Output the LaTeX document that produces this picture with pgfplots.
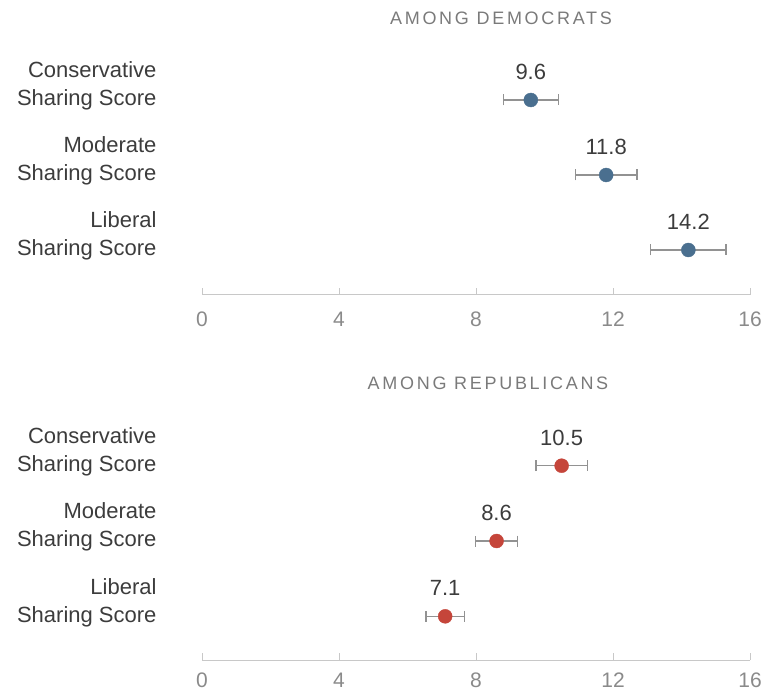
\documentclass[border=0pt]{standalone}
\usepackage{fontspec}
\setmainfont{Liberation Sans}
\usepackage{pgfplots}
\pgfplotsset{compat=1.18}

\definecolor{demblue}{HTML}{4A6F8F}
\definecolor{repred}{HTML}{C5453A}
\definecolor{labeltext}{HTML}{3C3C3C}
\definecolor{ticktext}{HTML}{8A8A8A}
\definecolor{titletext}{HTML}{7A7A7A}
\definecolor{axisgray}{HTML}{C8C8C8}
\definecolor{errgray}{HTML}{929292}

\pgfplotsset{
  scorepanel/.style={
    scale only axis, width=548pt, height=240pt,
    xmin=0, xmax=16, ymin=0.4, ymax=3.6,
    clip=false,
    axis x line*=bottom, axis y line*=left,
    x axis line style={draw=axisgray, line width=1pt, -},
    y axis line style={draw=none},
    xtick={0,4,8,12,16},
    xtick style={draw=axisgray, line width=1pt},
    major tick length=7pt, tick align=inside,
    ytick={1,2,3}, ytick style={draw=none},
    yticklabels={{Liberal\\Sharing Score},{Moderate\\Sharing Score},{Conservative\\Sharing Score}},
    yticklabel style={align=right, font=\fontsize{22}{28}\selectfont, text=labeltext, xshift=-42pt, yshift=14pt},
    xticklabel style={font=\fontsize{21}{25}\selectfont, text=ticktext, text height=15pt, text depth=0pt, yshift=-13pt},
    /pgf/number format/assume math mode=true,
  },
  scoredots/.style={
    only marks, mark=*, mark size=7pt,
    mark options={fill=#1, draw=#1},
    point meta=x,
    nodes near coords={\pgfmathprintnumber[fixed,precision=1,fixed zerofill,assume math mode=true]{\pgfplotspointmeta}},
    every node near coord/.append style={font=\fontsize{22}{26}\selectfont, text=labeltext, anchor=center, yshift=28pt},
    error bars/.cd,
      x dir=both, x explicit,
      error bar style={draw=errgray, line width=1.2pt},
      error mark options={rotate=90, mark size=5.5pt, draw=errgray, line width=1.2pt},
  },
}

\begin{document}
\begin{tikzpicture}[x=1pt,y=1pt]
\useasboundingbox (0,0) rectangle (773,694);

% Democrats
\begin{axis}[scorepanel, at={(202pt,399pt)}, anchor=south west]
\addplot+[scoredots=demblue] coordinates {
  (9.6,3)  +- (0.80,0)
  (11.8,2) +- (0.90,0)
  (14.2,1) +- (1.10,0)
};
\end{axis}

% Republicans (tick labels pulled up slightly to stay on the page)
\begin{axis}[scorepanel, ymin=0.42, height=239.5pt, at={(202pt,34pt)}, anchor=south west,
  xticklabel style={yshift=4pt}]
\addplot+[scoredots=repred] coordinates {
  (10.5,3) +- (0.75,0)
  (8.6,2)  +- (0.62,0)
  (7.1,1)  +- (0.56,0)
};
\end{axis}

\node[font=\fontsize{18}{20}\selectfont\addfontfeature{LetterSpace=15}, text=titletext] at (501,676) {AMONG DEMOCRATS};
\node[font=\fontsize{18}{20}\selectfont\addfontfeature{LetterSpace=15}, text=titletext] at (488,311) {AMONG REPUBLICANS};
\end{tikzpicture}
\end{document}
